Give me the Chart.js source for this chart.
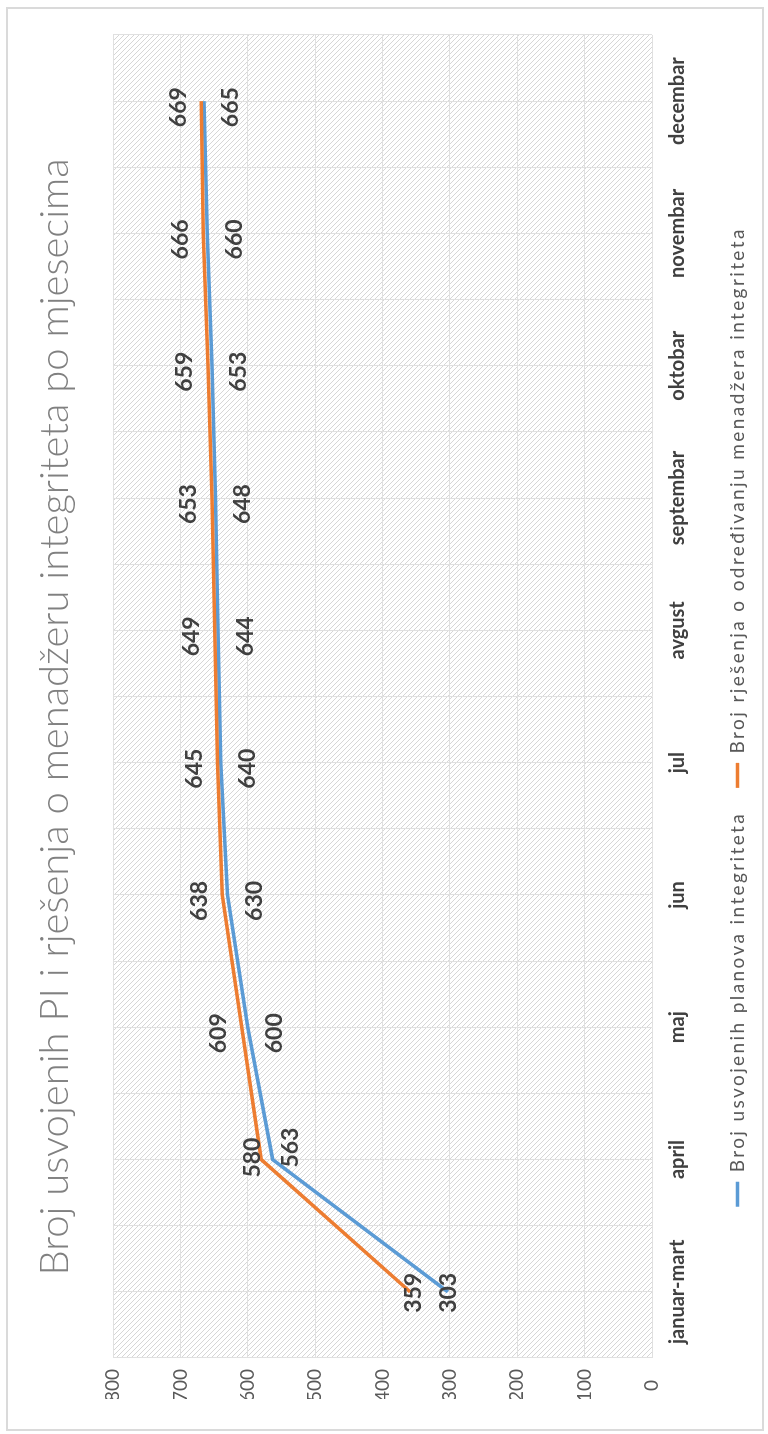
<!DOCTYPE html>
<html lang="hr">
<head>
    <meta charset="UTF-8">
    <title>Broj usvojenih PI i rješenja o menadžeru integriteta po mjesecima</title>
    <script src="https://cdn.jsdelivr.net/npm/chart.js"></script>
    <style>
        html, body {
            margin: 0;
            padding: 0;
            width: 768px;
            height: 1434px;
            overflow: hidden;
            background: #fff;
        }

        /* the whole chart is drawn sideways, like the scanned page */
        .sheet {
            position: absolute;
            left: 0;
            top: 1434px;
            width: 1434px;
            height: 768px;
            transform-origin: 0 0;
            transform: rotate(-90deg);
        }

        .frame {
            position: absolute;
            left: 3px;
            top: 6px;
            width: 1424px;
            height: 758px;
            border: 2px solid #dadada;
            box-sizing: border-box;
        }

        .chart-box {
            position: absolute;
            left: 0;
            top: 0;
            width: 1434px;
            height: 768px;
        }
    </style>
</head>
<body>
    <div class="sheet">
        <div class="frame"></div>
        <div class="chart-box">
            <canvas id="piChart"></canvas>
        </div>
    </div>

    <script>
        // podaci
        const categories = ['januar-mart', 'april', 'maj', 'jun', 'jul', 'avgust', 'septembar', 'oktobar', 'novembar', 'decembar'];
        const usvojeniPlanovi = [303, 563, 600, 630, 640, 644, 648, 653, 660, 665];
        const rjesenjaMenadzer = [359, 580, 609, 638, 645, 649, 653, 659, 666, 669];
        const valueTicks = [0, 100, 200, 300, 400, 500, 600, 700, 800];

        const BLUE = '#5b9bd5';
        const ORANGE = '#ed7d31';
        const FONT = 'Lato, Carlito, Calibri, sans-serif';

        // diagonal hatch for the plot area
        function makeHatch() {
            const c = document.createElement('canvas');
            c.width = 5;
            c.height = 5;
            const g = c.getContext('2d');
            g.fillStyle = '#ffffff';
            g.fillRect(0, 0, 5, 5);
            g.strokeStyle = '#d6d6d6';
            g.lineWidth = 1;
            g.beginPath();
            g.moveTo(-1, -1); g.lineTo(6, 6);
            g.moveTo(4, -1); g.lineTo(6, 1);
            g.moveTo(-1, 4); g.lineTo(1, 6);
            g.stroke();
            return g.createPattern(c, 'repeat');
        }

        const plotBackground = {
            id: 'plotBackground',
            beforeDraw(chart) {
                const a = chart.chartArea;
                const ctx = chart.ctx;
                ctx.save();
                ctx.fillStyle = makeHatch();
                ctx.fillRect(a.left, a.top, a.right - a.left, a.bottom - a.top);
                ctx.restore();
            }
        };

        // the legend text in the original is set wide
        const wideLegend = {
            id: 'wideLegend',
            beforeLayout(chart, args, opts) {
                const lg = chart.legend;
                if (!lg || lg._wide) return;
                lg._wide = true;
                const fit = lg.fit, draw = lg.draw;
                lg.fit = function () {
                    this.ctx.letterSpacing = opts.spacing;
                    fit.call(this);
                    this.ctx.letterSpacing = '0px';
                };
                lg.draw = function () {
                    this.ctx.save();
                    this.ctx.letterSpacing = opts.spacing;
                    draw.call(this);
                    this.ctx.restore();
                };
            }
        };

        // value labels next to every point
        const valueLabels = {
            id: 'valueLabels',
            afterDatasetsDraw(chart, args, opts) {
                const ctx = chart.ctx;
                ctx.save();
                ctx.font = opts.font;
                ctx.fillStyle = opts.color;
                ctx.textAlign = 'center';
                ctx.textBaseline = 'middle';
                chart.data.datasets.forEach((ds, i) => {
                    const meta = chart.getDatasetMeta(i);
                    meta.data.forEach((pt, j) => {
                        const shift = (ds.labelShift && ds.labelShift[j]) || ds.labelShiftDefault;
                        ctx.fillText(ds.data[j], pt.x + shift[0], pt.y + shift[1]);
                    });
                });
                ctx.restore();
            }
        };

        const ctx = document.getElementById('piChart').getContext('2d');
        new Chart(ctx, {
            type: 'line',
            data: {
                labels: categories,
                datasets: [{
                    label: 'Broj usvojenih planova integriteta',
                    data: usvojeniPlanovi,
                    borderColor: BLUE,
                    backgroundColor: BLUE,
                    borderWidth: 3.5,
                    pointRadius: 0,
                    tension: 0,
                    order: 1,
                    labelShiftDefault: [-6, 27],
                    labelShift: { 0: [-1, 1], 1: [12, 18] }
                }, {
                    label: 'Broj rješenja o određivanju menadžera integriteta',
                    data: rjesenjaMenadzer,
                    borderColor: ORANGE,
                    backgroundColor: ORANGE,
                    borderWidth: 3.5,
                    pointRadius: 0,
                    tension: 0,
                    order: 0,
                    labelShiftDefault: [-6, -23],
                    labelShift: { 0: [-1, 3], 1: [2, -9] }
                }]
            },
            options: {
                responsive: true,
                maintainAspectRatio: false,
                animation: false,
                layout: {
                    padding: { left: 35, right: 35, top: 0, bottom: 11 }
                },
                plugins: {
                    title: {
                        display: true,
                        text: 'Broj usvojenih PI i rješenja o menadžeru integriteta po mjesecima',
                        color: '#808080',
                        font: { family: FONT, size: 40, weight: '300', lineHeight: 1.2 },
                        padding: { top: 31, bottom: 34 }
                    },
                    legend: {
                        position: 'bottom',
                        labels: {
                            usePointStyle: true,
                            pointStyle: 'line',
                            pointStyleWidth: 25,
                            padding: 24,
                            color: '#595959',
                            font: { family: FONT, size: 19 },
                            sort: (a, b) => a.datasetIndex - b.datasetIndex
                        }
                    },
                    wideLegend: { spacing: '2.4px' },
                    tooltip: { enabled: false },
                    valueLabels: {
                        font: 'bold 23px ' + FONT,
                        color: '#404040'
                    }
                },
                scales: {
                    x: {
                        type: 'category',
                        offset: true,
                        grid: { offset: true, color: '#e0e0e0', drawTicks: false },
                        border: { display: false },
                        ticks: {
                            color: '#404040',
                            font: { family: FONT, size: 20, weight: 'bold' },
                            padding: 14,
                            maxRotation: 0,
                            autoSkip: false
                        },
                        afterFit: (scale) => { scale.height = 52; }
                    },
                    x2: {
                        type: 'category',
                        position: 'bottom',
                        offset: true,
                        grid: { offset: false, color: '#e0e0e0', drawTicks: false },
                        border: { display: false },
                        ticks: { display: false }
                    },
                    y: {
                        min: valueTicks[0],
                        max: valueTicks[valueTicks.length - 1],
                        afterBuildTicks: (scale) => {
                            scale.ticks = valueTicks.map(v => ({ value: v }));
                        },
                        grid: { color: '#e0e0e0', drawTicks: false },
                        border: { display: false },
                        ticks: {
                            color: '#595959',
                            font: { family: FONT, size: 19 },
                            padding: 11,
                            crossAlign: 'center'
                        },
                        afterFit: (scale) => { scale.width = 41; }
                    }
                }
            },
            plugins: [plotBackground, wideLegend, valueLabels]
        });
    </script>
</body>
</html>
